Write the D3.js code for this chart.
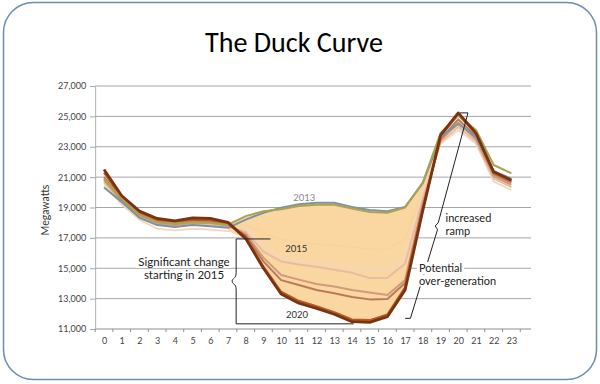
<!DOCTYPE html>
<html><head><meta charset="utf-8">
<script src="https://cdn.jsdelivr.net/npm/d3@7"></script>
<style>body{margin:0;background:#fff}svg{display:block}</style>
</head><body>
<svg id="c" width="600" height="384"></svg>
<script>
// ---------- data ----------
const hours = [0,1,2,3,4,5,6,7,8,9,10,11,12,13,14,15,16,17,18,19,20,21,22,23];
const yTicks = [11000,13000,15000,17000,19000,21000,23000,25000,27000];
const years = ["2012","2013","2014","2015","2016","2017","2018","2019","2020"];
const s2012 = [20320,19370,18320,17840,17710,17840,17770,17660,18200,18650,18980,19220,19310,19310,19040,18830,18760,19040,20600,23650,24500,23650,21400,20900];
const s2013 = [20900,19600,18550,18050,17950,18050,18000,17850,18430,18750,18890,19100,19180,19180,18930,18700,18650,19000,20650,23900,25050,24100,21800,21250];
const s2014 = [20600,19300,18350,17900,17800,17900,17850,17700,17900,17300,16900,16700,16600,16500,16400,16250,16250,16900,20200,23600,24400,23400,21100,20600];
const s2015 = [20500,19200,18200,17600,17500,17600,17550,17450,17550,16500,15700,15500,15350,15200,15050,14900,14900,15700,19900,23200,24100,23200,20700,20150];
const s2016 = [20700,19350,18400,17900,17780,17930,17900,17750,17400,16100,15450,15250,15100,14900,14700,14350,14370,15300,19600,23300,24300,23350,20900,20350];
const s2017 = [20800,19450,18450,17980,17850,18000,17980,17820,17250,15700,14550,14250,13960,13800,13570,13400,13240,14220,19300,23400,24600,23500,21050,20500];
const s2018 = [21000,19550,18550,18080,17950,18100,18080,17900,17150,15450,14220,13900,13570,13350,13110,12950,12970,14030,19100,23500,24800,23700,21200,20650];
const s2019 = [21300,19650,18650,18180,18030,18200,18180,17950,17050,15100,13450,12850,12500,12100,11620,11580,11950,13750,18900,23700,25100,23850,21300,20750];
const s2020 = [21500,19770,18760,18280,18120,18320,18280,18020,16950,15000,13300,12700,12360,11970,11480,11440,11810,13570,18800,23760,25230,23900,21350,20800];
const fillHours = [7,8,9,10,11,12,13,14,15,16,17,18,19];

// ---------- styles ----------
const colors = {"2012":"#7d93a3","2013":"#a9a451","2014":"#f8d29d","2015":"#f4d6bf","2016":"#e6bca3","2017":"#d19a7c","2018":"#b97a5a","2019":"#b55a26","2020":"#7b3210"};
const widths = {"2012":2,"2013":2,"2014":1.2,"2015":1.8,"2016":2,"2017":2,"2018":2,"2019":2.2,"2020":2.8};
const drawOrder = ["2014","2015","2016","2017","2018","2019","2012","2013","2020"];
const FONT = "Lato, 'Open Sans', sans-serif";

const valuesByYear = {"2012":s2012,"2013":s2013,"2014":s2014,"2015":s2015,"2016":s2016,"2017":s2017,"2018":s2018,"2019":s2019,"2020":s2020};

const svg = d3.select("#c");

// frame
svg.append("rect").attr("x",3.5).attr("y",2.5).attr("width",593).attr("height",377)
  .attr("rx",30).attr("fill","#fff").attr("stroke","#6b8db3").attr("stroke-width",1.5);

// title
const title = svg.append("text").attr("x",294).attr("y",52).attr("text-anchor","middle")
  .attr("font-family","Calibri, Carlito, Lato, sans-serif").attr("font-size",29).attr("fill","#000")
  .text("The Duck Curve");
const tl = title.node().getComputedTextLength();
title.attr("font-size", 29*178/tl);

// scales
const x = d3.scaleLinear().domain([-0.5,23.5]).range([95.15,520.25]);
const y = d3.scaleLinear().domain([11000,27000]).range([329,86]);
const gridRight = 531;

// gridlines
svg.append("g").selectAll("line").data(yTicks).join("line")
  .attr("x1",x(-0.5)).attr("x2",gridRight)
  .attr("y1",d=>y(d)).attr("y2",d=>y(d))
  .attr("stroke",d=>d===11000?"#8e8e8e":"#a6a6a6").attr("stroke-width",1);

// y axis
const ya = svg.append("g").attr("transform",`translate(${x(-0.5)},0)`)
  .call(d3.axisLeft(y).tickValues(yTicks).tickFormat(d3.format(",")).tickSize(5).tickPadding(4).tickSizeOuter(0));
ya.select(".domain").attr("stroke","#b0b0b0");
ya.selectAll(".tick line").attr("stroke","#a6a6a6");
ya.selectAll(".tick text").attr("font-family",FONT).attr("font-size",9).attr("fill","#444");

// x axis
const xa = svg.append("g").attr("transform",`translate(0,${y(11000)})`)
  .call(d3.axisBottom(x).tickValues(hours).tickFormat(d3.format("d")).tickSize(0).tickPadding(9));
xa.select(".domain").remove();
xa.selectAll(".tick text").attr("font-family",FONT).attr("font-size",9).attr("fill","#444");
svg.append("g").selectAll("line").data(hours.concat([24])).join("line")
  .attr("x1",d=>x(d-0.5)).attr("x2",d=>x(d-0.5))
  .attr("y1",y(11000)).attr("y2",y(11000)+3).attr("stroke","#8e8e8e");

// y label
svg.append("text").attr("transform","translate(49,210) rotate(-90)").attr("text-anchor","middle")
  .attr("font-family",FONT).attr("font-size",10.5).attr("fill","#333").text("Megawatts");

// fill area between top and bottom of all series
const area = d3.area()
  .x(h=>x(h))
  .y0(h=>y(d3.min(years,yr=>valuesByYear[yr][h])))
  .y1(h=>y(d3.max(years,yr=>valuesByYear[yr][h])));
svg.append("path").datum(fillHours).attr("d",area).attr("fill","#fad6a0");

// lines
const line = d3.line().x((d,i)=>x(hours[i])).y(d=>y(d));
svg.append("g").selectAll("path").data(drawOrder).join("path")
  .attr("d",yr=>line(valuesByYear[yr]))
  .attr("fill","none").attr("stroke",yr=>colors[yr]).attr("stroke-width",yr=>widths[yr])
  .attr("stroke-linejoin","round");

// year labels
const lab = (t,h,v,c)=>svg.append("text").attr("x",x(h)).attr("y",y(v)).attr("text-anchor","middle")
  .attr("font-family",FONT).attr("font-size",9.5).attr("fill",c).text(t);
lab("2013",11.3,19450,"#8a8a8a");
lab("2015",10.85,16050,"#333");
lab("2020",10.9,11750,"#333");

// left bracket
const bx = x(7.46);
svg.append("path").attr("fill","none").attr("stroke","#222").attr("stroke-width",1)
  .attr("d",`M${x(9.4)},${y(16930)}H${bx}V${y(14700)}C${bx},${y(14300)} ${bx-4},${y(14350)} ${bx-4},${y(14150)}C${bx-4},${y(13950)} ${bx},${y(14000)} ${bx},${y(13600)}V${y(11340)}H${x(14.1)}`);
// right bracket (drawn before texts so the text boxes cover it)
svg.append("path").attr("fill","none").attr("stroke","#222").attr("stroke-width",1)
  .attr("d",`M${x(20.1)},${y(25230)}H${x(20.55)}L${x(18.87)},${y(18000)}L${x(18.7)},${y(17780)}L${x(18.83)},${y(17550)}L${x(17.3)},${y(11700)}H${x(17.0)}`);

// annotations with white backgrounds
function note(lines, xx, yy, anchor, size, gap){
  const g = svg.append("g");
  lines.forEach((s,i)=>{
    const bg = g.append("rect").attr("fill","#fff");
    const t = g.append("text").attr("x",xx).attr("y",yy+i*gap).attr("font-family",FONT)
      .attr("font-size",size).attr("fill","#222").attr("text-anchor",anchor).text(s);
    const b = t.node().getBBox();
    bg.attr("x",b.x-2).attr("y",b.y+1).attr("width",b.width+4).attr("height",b.height-1);
  });
}
note(["Significant change","starting in 2015"],184,266,"middle",11.5,13);
note(["Potential","over-generation"],419,272,"start",11,12.5);
note(["increased","ramp"],445.5,222,"start",11,12.5);
</script>
</body></html>
